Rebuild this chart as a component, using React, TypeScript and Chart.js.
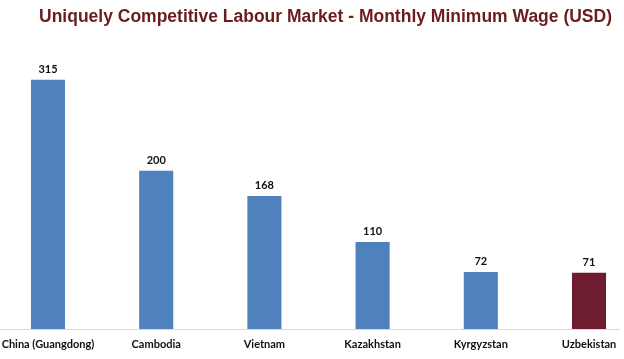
import React, { useEffect, useRef } from "react";
import { Chart, registerables } from "chart.js";

Chart.register(...registerables);

const categories = ["China (Guangdong)", "Cambodia", "Vietnam", "Kazakhstan", "Kyrgyzstan", "Uzbekistan"];
const wages = [315, 200, 168, 110, 72, 71];
const barColors = ["#4F81BD", "#4F81BD", "#4F81BD", "#4F81BD", "#4F81BD", "#6E1D31"];
const titleText = "Uniquely Competitive Labour Market - Monthly Minimum Wage (USD)";

const valueLabels = {
  id: "valueLabels",
  afterDatasetsDraw(chart: any) {
    const ctx = chart.ctx;
    const meta = chart.getDatasetMeta(0);
    ctx.save();
    ctx.font = "bold 11px Lato, 'Liberation Sans', sans-serif";
    ctx.fillStyle = "#111";
    ctx.textAlign = "center";
    ctx.textBaseline = "bottom";
    meta.data.forEach((bar: any, i: number) => {
      ctx.fillText(String(wages[i]), bar.x, bar.y - 5);
    });
    ctx.restore();
  },
};

const baseline = {
  id: "baseline",
  beforeDatasetsDraw(chart: any) {
    const ctx = chart.ctx;
    const y = chart.scales.y.getPixelForValue(0);
    ctx.save();
    ctx.strokeStyle = "#D9D9D9";
    ctx.lineWidth = 1;
    ctx.beginPath();
    ctx.moveTo(0, Math.round(y) + 0.5);
    ctx.lineTo(chart.width - 4, Math.round(y) + 0.5);
    ctx.stroke();
    ctx.restore();
  },
};

export default function App() {
  const ref = useRef<HTMLCanvasElement>(null);
  useEffect(() => {
    document.body.style.margin = "0";
    const chart = new Chart(ref.current!, {
      type: "bar",
      data: {
        labels: categories,
        datasets: [
          {
            data: wages,
            backgroundColor: barColors,
            categoryPercentage: 1,
            barPercentage: 0.315,
            clip: false,
          },
        ],
      },
      options: {
        animation: false,
        responsive: false,
        devicePixelRatio: 1,
        layout: { padding: { left: 0, right: 12, top: 0, bottom: 0 } },
        plugins: {
          legend: { display: false },
          tooltip: { enabled: false },
          title: {
            display: true,
            align: "end",
            text: titleText,
            color: "#6B1C1C",
            font: { family: "'Liberation Sans', Arial, sans-serif", size: 17.5, weight: "bold" },
            padding: { top: 7, bottom: 16 },
          },
        },
        scales: {
          x: {
            offset: false,
            grid: { display: false, drawTicks: false },
            border: { display: false },
            ticks: {
              color: "#111",
              padding: 9,
              maxRotation: 0,
              autoSkip: false,
              font: { family: "Lato, 'Liberation Sans', sans-serif", size: 11, weight: "bold" },
            },
            afterFit(scale: any) {
              scale.height = 30;
              scale.paddingLeft = 48;
              scale.paddingRight = 35;
            },
          },
          y: {
            display: false,
            min: 0,
            max: 360,
          },
        },
      },
      plugins: [baseline, valueLabels],
    });
    return () => chart.destroy();
  }, []);
  return (
    <div style={{ width: 624, height: 359 }}>
      <canvas ref={ref} width={624} height={359} style={{ display: "block" }} />
    </div>
  );
}
